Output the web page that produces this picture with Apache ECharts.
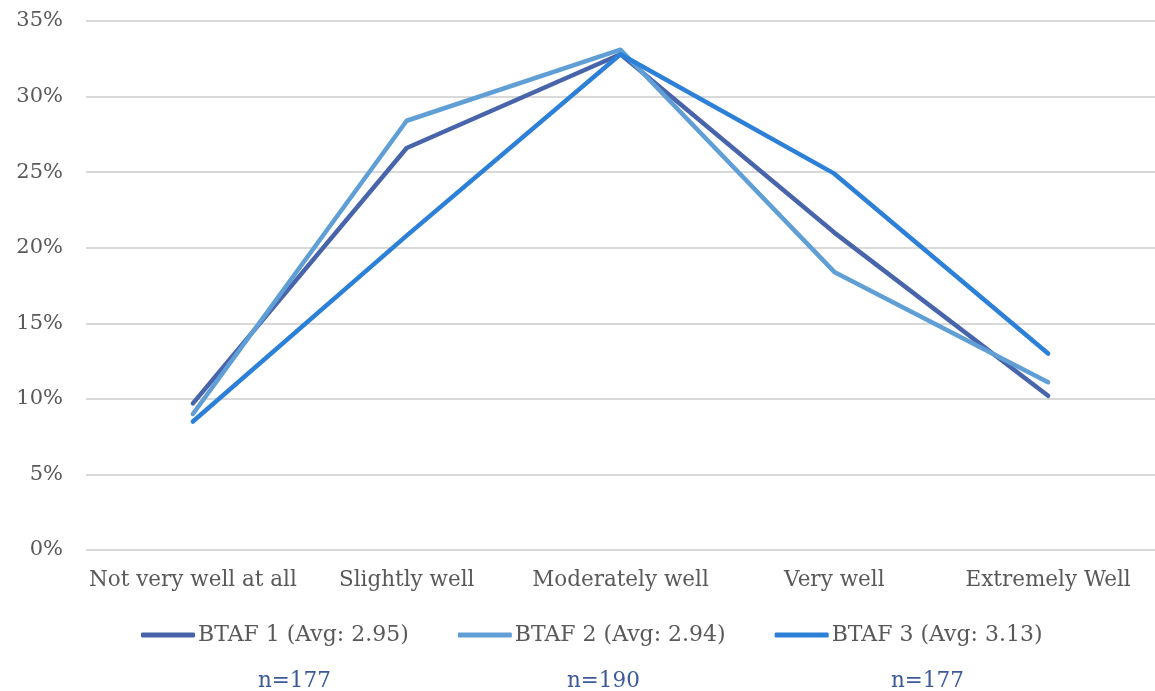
<!DOCTYPE html>
<html>
<head>
<meta charset="utf-8">
<script src="https://cdn.jsdelivr.net/npm/echarts@6/dist/echarts.min.js"></script>
<style>
  html, body { margin: 0; padding: 0; background: #ffffff; }
  #chart { width: 1155px; height: 691px; }
</style>
</head>
<body>
<div id="chart"></div>
<script>
// Response categories along the x axis
const categories = ['Not very well at all', 'Slightly well', 'Moderately well', 'Very well', 'Extremely Well'];

// Share of responses (percent) for each survey wave
const btaf1 = [9.7, 26.6, 32.8, 21.0, 10.2];
const btaf2 = [9.0, 28.4, 33.1, 18.4, 11.1];
const btaf3 = [8.5, 20.8, 32.8, 24.9, 13.0];

const seriesNames = ['BTAF 1 (Avg: 2.95)', 'BTAF 2 (Avg: 2.94)', 'BTAF 3 (Avg: 3.13)'];
const sampleSizes = ['n=177', 'n=190', 'n=177'];

const colors = ['#4865AC', '#609FD6', '#2C80D8'];
const fontFamily = '"DejaVu Serif", "Liberation Serif", serif';

const chart = echarts.init(document.getElementById('chart'), null, { renderer: 'canvas' });

function lineSeries(name, data, color) {
  return {
    name: name,
    type: 'line',
    data: data,
    symbol: 'none',
    smooth: false,
    lineStyle: { width: 4.5, color: color, cap: 'round', join: 'round' },
    itemStyle: { color: color },
    emphasis: { disabled: true }
  };
}

chart.setOption({
  animation: false,
  backgroundColor: '#ffffff',
  color: colors,
  grid: { left: 86, right: 0, top: 21, bottom: 141, containLabel: false },
  xAxis: {
    type: 'category',
    data: categories,
    boundaryGap: true,
    axisLine: { show: false },
    axisTick: { show: false },
    axisLabel: { color: '#595959', fontFamily: fontFamily, fontSize: 21.5, margin: 19, interval: 0 }
  },
  yAxis: {
    type: 'value',
    min: 0,
    max: 35,
    interval: 5,
    axisLine: { show: false },
    axisTick: { show: false },
    splitLine: { lineStyle: { color: '#d9d9d9', width: 2 } },
    axisLabel: { color: '#595959', fontFamily: fontFamily, fontSize: 21, margin: 23,
      formatter: v => v + '%' }
  },
  legend: {
    data: seriesNames,
    left: 136,
    top: 619,
    icon: 'roundRect',
    itemWidth: 54,
    itemHeight: 5,
    itemGap: 49,
    textStyle: { color: '#595959', fontFamily: fontFamily, fontSize: 22, padding: [0, 0, 0, -2] }
  },
  graphic: sampleSizes.map((t, i) => ({
    type: 'text',
    left: [258, 567, 891][i],
    top: 670,
    style: { text: t, fill: '#3C5A9A', font: '21.5px ' + fontFamily }
  })),
  series: [
    lineSeries(seriesNames[0], btaf1, colors[0]),
    lineSeries(seriesNames[1], btaf2, colors[1]),
    lineSeries(seriesNames[2], btaf3, colors[2])
  ]
});
</script>
</body>
</html>
